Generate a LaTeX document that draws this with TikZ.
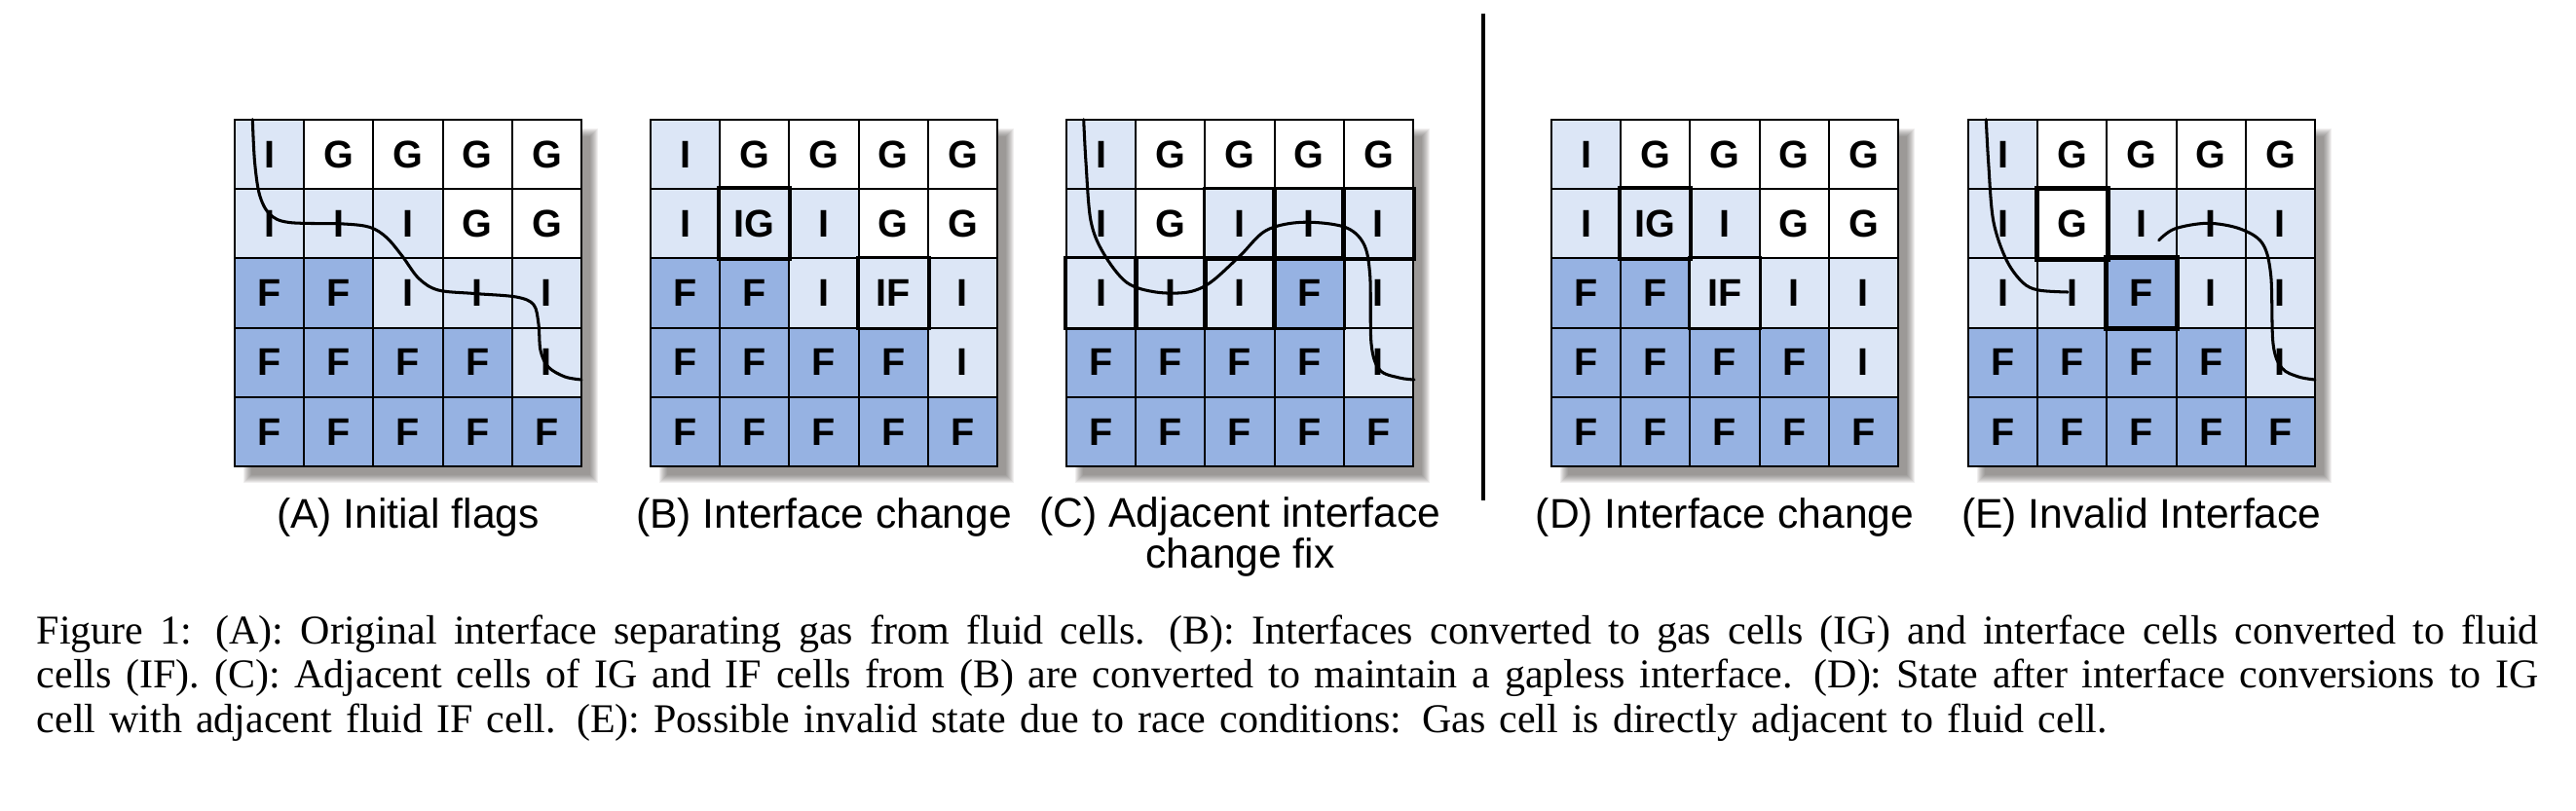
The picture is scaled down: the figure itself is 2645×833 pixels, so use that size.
\documentclass[tikz,border=0pt]{standalone}
\usepackage{fontspec}
\setmainfont{Liberation Serif}
\newfontfamily\lsans{Liberation Sans}
\definecolor{lightI}{RGB}{220,230,246}
\definecolor{darkF}{RGB}{150,178,226}
\definecolor{shadowc}{RGB}{90,82,78}
\tikzset{
 x=0.263pt, y=-0.263pt,
 cell/.style={draw=black, line width=0.55pt, minimum size=18.7256pt, inner sep=0pt,
   font=\lsans\bfseries\fontsize{10.4}{12}\selectfont},
 cellI/.style={fill=lightI}, cellIG/.style={fill=lightI}, cellIF/.style={fill=lightI},
 cellG/.style={fill=white}, cellF/.style={fill=darkF},
 thickbox/.style={draw=black, line width=0.95pt},
 midbox/.style={draw=black, line width=0.8pt},
 heavybox/.style={draw=black, line width=1.35pt},
 iface/.style={draw=black, line width=0.8pt, line cap=round},
 sublabel/.style={font=\lsans\fontsize{11.2}{10.8}\selectfont, align=center, inner sep=0pt},
}
\newcommand\drawpanel[3]{%
  \foreach \k in {0,...,8}{\fill[shadowc, opacity=0.09] ({#2+9+\k},{132+\k}) rectangle ({#2+356+17-\k},{479+17-\k});}%
  \foreach \rowlist [count=\r from 0] in {#3}{%
    \foreach \l [count=\c from 0] in \rowlist{%
      \node[cell, cell\l] (#1-\r-\c) at ({#2+35.6+71.2*\c},{158.6+71.2*\r}) {\l};
    }%
  }%
}
\newcommand\capline[1]{\makebox[675.6pt][s]{\spaceskip=0.3333em plus 1em minus 0.1em\xspaceskip=0.5em plus 1em minus 0.1em #1}}
\begin{document}
\begin{tikzpicture}
\useasboundingbox (0,0) rectangle (2645,833);
\fill[white] (0,0) rectangle (2645,833);

\drawpanel{A}{241}{{I,G,G,G,G},{I,I,I,G,G},{F,F,I,I,I},{F,F,F,F,I},{F,F,F,F,F}}
\drawpanel{B}{668}{{I,G,G,G,G},{I,IG,I,G,G},{F,F,I,IF,I},{F,F,F,F,I},{F,F,F,F,F}}
\drawpanel{C}{1095}{{I,G,G,G,G},{I,G,I,I,I},{I,I,I,F,I},{F,F,F,F,I},{F,F,F,F,F}}
\drawpanel{D}{1593}{{I,G,G,G,G},{I,IG,I,G,G},{F,F,IF,I,I},{F,F,F,F,I},{F,F,F,F,F}}
\drawpanel{E}{2021}{{I,G,G,G,G},{I,G,I,I,I},{I,I,F,I,I},{F,F,F,F,I},{F,F,F,F,F}}

% emphasised cells
\draw[thickbox] (B-1-1.north west) rectangle (B-1-1.south east);
\draw[thickbox] (B-2-3.north west) rectangle (B-2-3.south east);
\draw[thickbox] (D-1-1.north west) rectangle (D-1-1.south east);
\draw[thickbox] (D-2-2.north west) rectangle (D-2-2.south east);
\foreach \cc in {1-2,1-3,1-4,2-0,2-1,2-2,2-3}{
  \draw[midbox] (C-\cc.north west) rectangle (C-\cc.south east);
}
\draw[heavybox] (E-1-1.north west) rectangle (E-1-1.south east);
\draw[heavybox] (E-2-2.north west) rectangle (E-2-2.south east);

% interface curves
\draw[iface] plot[smooth, tension=0.55] coordinates {(259.3,122.7) (261.5,166) (266.5,200) (277,220) (297,228.5) (353,230) (380,233.5) (397,244) (413,263) (430,286) (450,298) (487,301.5) (530,305) (548,313) (553,333) (555,360) (563,377) (580,387) (597,390)};
\draw[iface] plot[smooth, tension=0.55] coordinates {(1112.7,122.7) (1115,166.7) (1120,226.7) (1133,260) (1156.7,290) (1186.7,300) (1220,300) (1243,290) (1273,263) (1300,236.7) (1336.7,228.3) (1380,233) (1400,250) (1406.7,283) (1408,353) (1416.7,380) (1436.7,388) (1452,390)};
\draw[iface] plot[smooth, tension=0.55] coordinates {(2039.3,122.7) (2041.7,166.7) (2046.7,226.7) (2060,266.7) (2076.7,290) (2093,298) (2123,300)};
\draw[iface] plot[smooth, tension=0.55] coordinates {(2216.7,246.7) (2233,235) (2266.7,229.3) (2300,235) (2323,250) (2331.7,283) (2334,353) (2343,378) (2360,387) (2377,390)};

% separator
\draw[line width=1.3pt] (1523,14) -- (1523,514);

% sub labels
\node[sublabel] (la) at (419,531) {(A) Initial flags};
\node[sublabel] (lb) at (846,531) {(B) Interface change};
\node[sublabel] (lc) at (1273.5,551.5) {(C) Adjacent interface\\change fix};
\node[sublabel] (ld) at (1771,531) {(D) Interface change};
\node[sublabel] (le) at (2199,531) {(E) Invalid Interface};

% caption
\node[anchor=base west, inner sep=0pt, text width=675.6pt, align=left,
      font=\fontsize{11.05}{12}\selectfont] (cap) at (37,661)
 {\capline{Figure 1: (A): Original interface separating gas from fluid cells. (B): Interfaces converted to gas cells (IG) and interface cells converted to fluid}\\
 \capline{cells (IF). (C): Adjacent cells of IG and IF cells from (B) are converted to maintain a gapless interface. (D): State after interface conversions to IG}\\
 cell with adjacent fluid IF cell. (E): Possible invalid state due to race conditions: Gas cell is directly adjacent to fluid cell.};
\end{tikzpicture}
\end{document}
